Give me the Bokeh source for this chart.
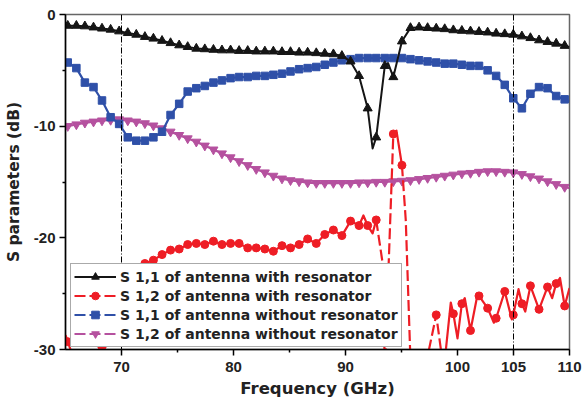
from bokeh.plotting import figure
from bokeh.models import Span, FixedTicker, Legend, LegendItem, Range1d
from bokeh.embed import file_html
from bokeh.resources import INLINE

# ---------------- data ----------------
freq = [65.20, 65.97, 66.73, 67.50, 68.26, 69.03, 69.79, 70.56, 71.32, 72.09,
        72.85, 73.62, 74.38, 75.15, 75.91, 76.68, 77.44, 78.21, 78.97, 79.74,
        80.50, 81.27, 82.03, 82.80, 83.56, 84.33, 85.09, 85.86, 86.62, 87.39,
        88.15, 88.92, 89.68, 90.45, 91.21, 91.98, 92.74, 93.51, 94.27, 95.04,
        95.80, 96.57, 97.33, 98.10, 98.86, 99.63, 100.39, 101.16, 101.92, 102.69,
        103.45, 104.22, 104.98, 105.75, 106.51, 107.28, 108.04, 108.81, 109.57]

s11_res = [-1.0, -1.0, -1.05, -1.15, -1.25, -1.35, -1.5, -1.65, -1.8, -2.0,
           -2.15, -2.35, -2.55, -2.75, -2.9, -3.05, -3.1, -3.15, -3.2, -3.2,
           -3.25, -3.25, -3.3, -3.3, -3.3, -3.35, -3.35, -3.4, -3.4, -3.45,
           -3.5, -3.55, -3.7, -4.2, -5.5, -8.4, -11.0, -4.6, -5.6, -2.4,
           -1.2, -1.15, -1.2, -1.25, -1.3, -1.4, -1.45, -1.5, -1.55, -1.6,
           -1.7, -1.75, -1.8, -1.95, -2.1, -2.3, -2.45, -2.6, -2.8]
s11_res_extra_f = [92.42, 93.8, 110.0]
s11_res_extra_v = [-12.0, -4.35, -2.9]

s12_res = [-29.3, -31.5, -32.0, -31.0, -29.8, -28.0, -26.5, -25.0, -23.3, -22.3,
           -22.0, -21.5, -21.1, -21.0, -20.6, -20.5, -20.6, -20.3, -20.6, -20.5,
           -20.5, -20.9, -20.9, -21.0, -21.2, -20.7, -20.9, -20.6, -20.1, -20.5,
           -19.7, -19.3, -19.8, -18.5, -18.9, -18.9, -18.4, -32.0, -10.7, -13.5,
           -31.0, -31.5, -30.6, -26.9, -31.0, -26.8, -25.9, -28.3, -25.2, -26.3,
           -27.2, -24.8, -26.9, -25.9, -24.3, -26.4, -24.4, -24.1, -26.1]
s12_res_extra_f = [65.0, 91.6, 92.42, 93.35, 94.55, 95.38, 98.72, 99.4, 100.0, 100.65,
                   101.8, 103.25, 104.85, 105.45, 106.05, 108.45, 109.15, 110.0]
s12_res_extra_v = [-28.7, -18.0, -19.6, -22.5, -10.4, -18.4, -31.5, -25.8, -29.0, -25.4,
                   -25.0, -27.6, -27.3, -24.6, -26.6, -25.4, -23.6, -24.5]
s12_res_dashed_ranges = [(93.0, 94.3), (95.05, 98.8)]

s11_nores = [-4.3, -4.8, -6.1, -6.5, -7.7, -9.2, -9.8, -11.0, -11.3, -11.3,
             -11.0, -10.5, -9.0, -8.0, -6.9, -6.6, -6.4, -6.1, -5.9, -5.7,
             -5.6, -5.6, -5.5, -5.5, -5.4, -5.3, -5.1, -4.9, -4.8, -4.7,
             -4.5, -4.3, -4.1, -4.0, -3.9, -3.9, -3.9, -3.9, -3.9, -3.9,
             -4.0, -4.1, -4.2, -4.3, -4.4, -4.4, -4.5, -4.6, -4.6, -5.0,
             -5.5, -6.3, -7.5, -8.4, -7.1, -6.5, -6.6, -7.3, -7.6]
s11_nores_extra_f = [110.0]
s11_nores_extra_v = [-7.8]

s12_nores = [-10.0, -9.85, -9.7, -9.6, -9.5, -9.45, -9.4, -9.5, -9.6, -9.75,
             -9.95, -10.2, -10.5, -10.8, -11.1, -11.4, -11.75, -12.1, -12.45, -12.8,
             -13.15, -13.5, -13.85, -14.15, -14.45, -14.7, -14.85, -14.95, -15.05, -15.1,
             -15.1, -15.1, -15.1, -15.1, -15.05, -15.05, -15.0, -15.0, -14.95, -14.9,
             -14.85, -14.75, -14.65, -14.55, -14.45, -14.35, -14.25, -14.2, -14.1, -14.05,
             -14.05, -14.1, -14.15, -14.3, -14.5, -14.7, -14.95, -15.2, -15.45]
s12_nores_extra_f = [65.0, 110.0]
s12_nores_extra_v = [-10.05, -15.55]

x_ticks = [70, 80, 90, 100, 105, 110]
x_minor = [75, 85, 95]
y_ticks = [0, -10, -20, -30]
y_minor = [-5, -15, -25]
y_tick_labels = ["0", "-10", "-20", "-30"]
ref_lines = [70, 105]

labels = ["S 1,1 of antenna with resonator",
          "S 1,2 of antenna with resonator",
          "S 1,1 of antenna without resonator",
          "S 1,2 of antenna without resonator"]

BLACK = "#151515"
RED = "#ee1d25"
BLUE = "#2f50a8"
MAGENTA = "#b5519f"
TICK_FONT = "Liberation Sans"
LABEL_FONT = "DejaVu Sans"


def merged(fs, vs, ef, ev):
    pts = sorted(list(zip(fs, vs)) + list(zip(ef, ev)))
    return [a for a, _ in pts], [b for _, b in pts]


# ---------------- figure ----------------
p = figure(width=582, height=405, output_backend="svg", toolbar_location=None,
           x_range=Range1d(65, 110), y_range=Range1d(-30, 0),
           min_border_left=65, min_border_right=13, min_border_top=14, min_border_bottom=56)
p.xgrid.visible = False
p.ygrid.visible = False
p.outline_line_color = "#666666"
p.outline_line_width = 1.5
p.background_fill_color = "white"
p.border_fill_color = "white"

for loc in ref_lines:
    p.add_layout(Span(location=loc, dimension="height", line_color="black",
                      line_width=1, line_dash="6 2 1 2"))

# magenta: S12 without resonator
mf, mv = merged(freq, s12_nores, s12_nores_extra_f, s12_nores_extra_v)
p.line(mf, mv, line_color=MAGENTA, line_width=2.2, line_join="round")
mag_sc = p.scatter(freq, s12_nores, marker="inverted_triangle", size=9,
                   fill_color=MAGENTA, line_color=MAGENTA)
# legend-only dashed stroke (drawn off the visible range)
mag_dummy = p.line([0, 1], [50, 50], line_color=MAGENTA, line_width=2, line_dash="11 4")

# red: S12 with resonator (solid on gentle parts, dashed on steep parts)
rf, rv = merged(freq, s12_res, s12_res_extra_f, s12_res_extra_v)
solid_xs, solid_ys, dash_xs, dash_ys = [], [], [], []
cur_x, cur_y, cur_d = [rf[0]], [rv[0]], None
for k in range(len(rf) - 1):
    mid = 0.5 * (rf[k] + rf[k + 1])
    d = any(lo <= mid <= hi for lo, hi in s12_res_dashed_ranges)
    if cur_d is None or d == cur_d:
        cur_x.append(rf[k + 1]); cur_y.append(rv[k + 1]); cur_d = d
    else:
        (dash_xs if cur_d else solid_xs).append(cur_x)
        (dash_ys if cur_d else solid_ys).append(cur_y)
        cur_x, cur_y, cur_d = [rf[k], rf[k + 1]], [rv[k], rv[k + 1]], d
(dash_xs if cur_d else solid_xs).append(cur_x)
(dash_ys if cur_d else solid_ys).append(cur_y)
p.multi_line(solid_xs, solid_ys, line_color=RED, line_width=2.2, line_join="round")
red_dash = p.multi_line(dash_xs, dash_ys, line_color=RED, line_width=2.2, line_dash="11 4")
red_sc = p.scatter(freq, s12_res, marker="circle", size=8, fill_color=RED, line_color=RED)

# blue: S11 without resonator
bf, bv = merged(freq, s11_nores, s11_nores_extra_f, s11_nores_extra_v)
p.line(bf, bv, line_color=BLUE, line_width=2.2, line_join="round")
blue_sc = p.scatter(freq, s11_nores, marker="square", size=7.5, fill_color=BLUE, line_color=BLUE)
blue_dummy = p.line([0, 1], [50, 50], line_color=BLUE, line_width=2, line_dash="11 4")

# black: S11 with resonator
kf, kv = merged(freq, s11_res, s11_res_extra_f, s11_res_extra_v)
black_line = p.line(kf, kv, line_color=BLACK, line_width=2, line_join="round")
black_sc = p.scatter(freq, s11_res, marker="triangle", size=9, fill_color=BLACK, line_color=BLACK)

# ---------------- axes ----------------
p.xaxis.ticker = FixedTicker(ticks=x_ticks, minor_ticks=x_minor)
p.yaxis.ticker = FixedTicker(ticks=y_ticks, minor_ticks=y_minor)
p.yaxis.major_label_overrides = {t: s for t, s in zip(y_ticks, y_tick_labels)}
p.xaxis.axis_label = "Frequency (GHz)"
p.yaxis.axis_label = "S parameters (dB)"
for ax in (p.xaxis, p.yaxis):
    ax.axis_line_color = "black"
    ax.axis_line_width = 1.5
    ax.major_tick_line_color = "black"
    ax.major_tick_line_width = 1.5
    ax.minor_tick_line_color = "black"
    ax.minor_tick_line_width = 1.5
    ax.major_tick_in = 0
    ax.major_tick_out = 6
    ax.minor_tick_in = 0
    ax.minor_tick_out = 3
    ax.major_label_text_font = TICK_FONT
    ax.major_label_text_font_style = "bold"
    ax.major_label_text_font_size = "15px"
    ax.major_label_text_color = "#222222"
    ax.axis_label_text_font = LABEL_FONT
    ax.axis_label_text_font_style = "bold"
    ax.axis_label_text_color = "#222222"
p.xaxis.axis_label_text_font_size = "16.5px"
p.yaxis.axis_label_text_font_size = "15.5px"
p.xaxis.major_label_standoff = 6
p.yaxis.major_label_standoff = 4
p.xaxis.axis_label_standoff = 4
p.yaxis.axis_label_standoff = 8

# ---------------- legend ----------------
items = [
    LegendItem(label=labels[0], renderers=[black_line, black_sc]),
    LegendItem(label=labels[1], renderers=[red_dash, red_sc]),
    LegendItem(label=labels[2], renderers=[blue_dummy, blue_sc]),
    LegendItem(label=labels[3], renderers=[mag_dummy, mag_sc]),
]
legend = Legend(items=items, location=(5, 2))
legend.border_line_color = "#555555"
legend.border_line_width = 1.5
legend.background_fill_color = "white"
legend.background_fill_alpha = 1.0
legend.padding = 3
legend.spacing = 0
legend.margin = 0
legend.glyph_width = 42
legend.glyph_height = 19
legend.label_height = 19
legend.label_standoff = 4
legend.label_text_font = LABEL_FONT
legend.label_text_font_style = "bold"
legend.label_text_font_size = "14px"
legend.label_text_color = "#222222"
p.add_layout(legend, "center")

open("out.html", "w").write(file_html(p, INLINE))
